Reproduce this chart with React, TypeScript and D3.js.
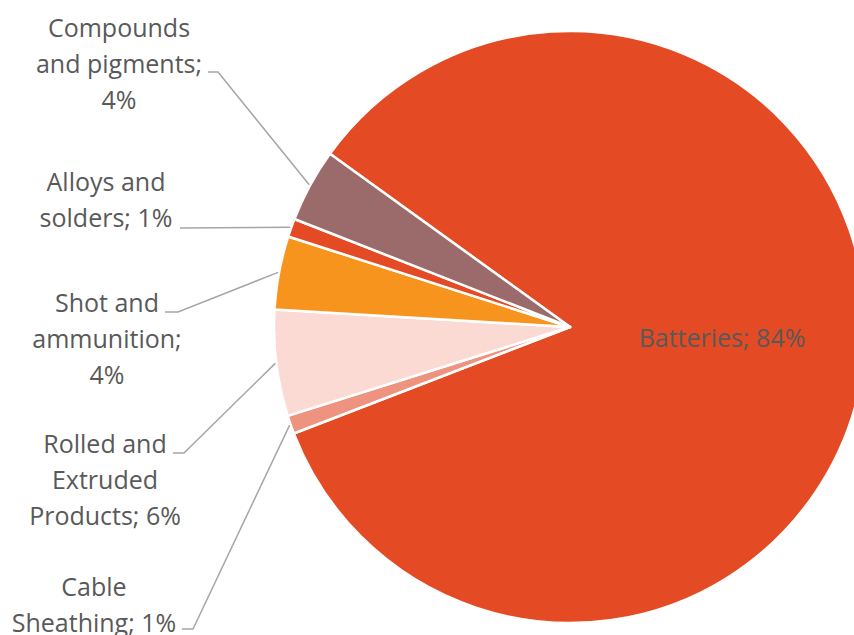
import React from "react";
import * as d3 from "d3";

const categories = [
  "Batteries",
  "Cable Sheathing",
  "Rolled and Extruded Products",
  "Shot and ammunition",
  "Alloys and solders",
  "Compounds and pigments",
];
const values = [84.2, 1.0, 5.8, 4.0, 1.0, 4.0];
const percentLabels = ["84%", "1%", "6%", "4%", "1%", "4%"];
const colors = ["#E44A23", "#EE9380", "#FADAD3", "#F7941E", "#E44A23", "#9B6A6A"];

// label layout (text lines, centre x, first baseline, leader start x, leader elbow x)
const labelLines: string[][] = [
  ["Batteries; 84%"],
  ["Cable", "Sheathing; 1%"],
  ["Rolled and", "Extruded", "Products; 6%"],
  ["Shot and", "ammunition;", "4%"],
  ["Alloys and", "solders; 1%"],
  ["Compounds", "and pigments;", "4%"],
];
const labelCx = [722, 94, 105, 107, 106, 119];
const labelBaseline = [347, 596, 453, 312, 191, 37];
const leaderY = [0, 629, 453, 312, 228, 72];
const leaderX0 = [0, 182, 173, 165, 180, 208];
const leaderX1 = [0, 193, 184, 178, 180, 218];

const W = 854;
const H = 635;
const CX = 570;
const CY = 327;
const R = 296;
const START = (305.8 * Math.PI) / 180 - 2 * Math.PI;

export default function App() {
  const pie = d3
    .pie<number>()
    .sort(null)
    .value((d) => d)
    .startAngle(START)
    .endAngle(START + 2 * Math.PI);
  const arcs = pie(values);
  const arc = d3.arc<d3.PieArcDatum<number>>().innerRadius(0).outerRadius(R);
  const lineH = 36;

  return (
    <svg
      width={W}
      height={H}
      style={{ position: "absolute", left: 0, top: 0, background: "#fff" }}
      fontFamily="'Open Sans', sans-serif"
    >
      <g transform={`translate(${CX},${CY})`}>
        {arcs.map((a, i) => (
          <path
            key={categories[i]}
            d={arc(a) || ""}
            fill={colors[i]}
            stroke="#fff"
            strokeWidth={2.5}
            strokeLinejoin="round"
          />
        ))}
      </g>
      {arcs.map((a, i) => {
        if (i === 0) return null;
        const mid = (a.startAngle + a.endAngle) / 2;
        const ax = CX + (R + 1) * Math.sin(mid);
        const ay = CY - (R + 1) * Math.cos(mid);
        const pts: [number, number][] = [
          [leaderX0[i], leaderY[i]],
          [leaderX1[i], leaderY[i]],
          [ax, ay],
        ];
        return (
          <path
            key={"l" + i}
            d={d3.line()(pts) || ""}
            fill="none"
            stroke="#A6A6A6"
            strokeWidth={1.5}
          />
        );
      })}
      {labelLines.map((lines, i) => (
        <text
          key={"t" + i}
          x={labelCx[i]}
          y={labelBaseline[i]}
          textAnchor="middle"
          fontSize={25}
          fill="#595959"
        >
          {lines.map((ln, j) => (
            <tspan key={j} x={labelCx[i]} y={labelBaseline[i] + j * lineH}>
              {ln}
            </tspan>
          ))}
        </text>
      ))}
    </svg>
  );
}
